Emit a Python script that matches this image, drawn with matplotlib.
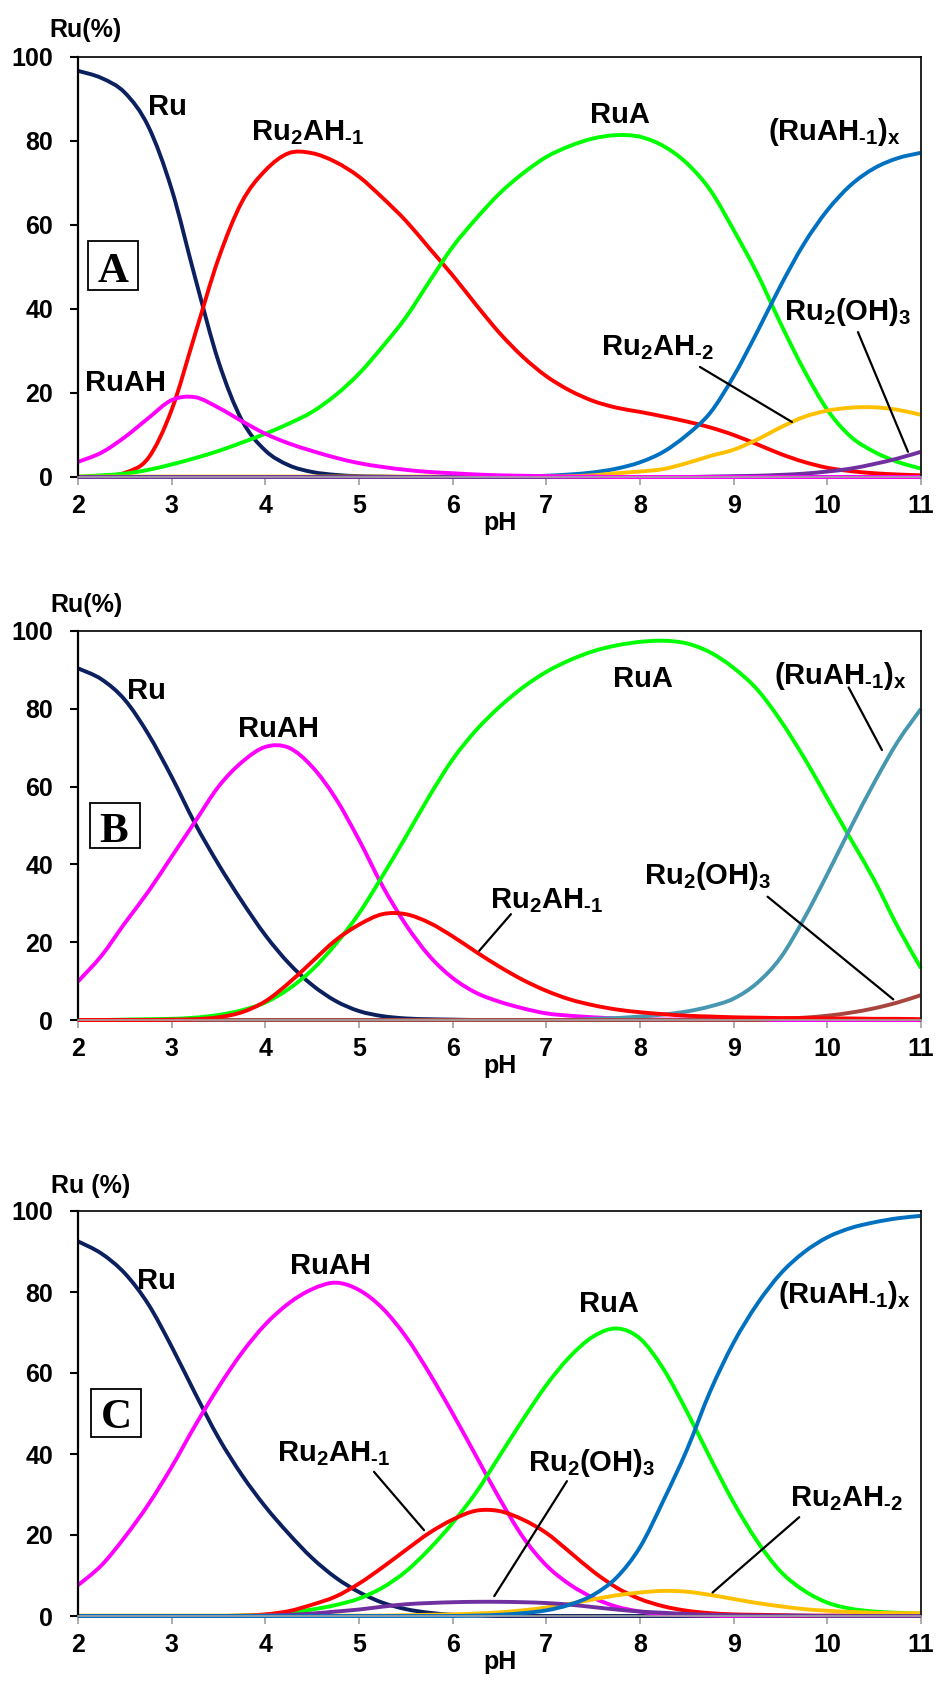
import matplotlib
matplotlib.use('Agg')
import matplotlib.pyplot as plt
from matplotlib.patches import Rectangle, PathPatch
from matplotlib.path import Path

plt.rcParams['font.family'] = ['Liberation Sans', 'DejaVu Sans']
plt.rcParams['font.weight'] = 'bold'
plt.rcParams['mathtext.fontset'] = 'custom'
plt.rcParams['mathtext.rm'] = 'Liberation Sans:bold'
plt.rcParams['mathtext.it'] = 'Liberation Sans:bold'
plt.rcParams['mathtext.bf'] = 'Liberation Sans:bold'
plt.rcParams['mathtext.sf'] = 'Liberation Sans:bold'

# ---------------- data ----------------
ph = [2.0, 2.25, 2.5, 2.75, 3.0, 3.25, 3.5, 3.75, 4.0, 4.25, 4.5, 4.75, 5.0, 5.25,
      5.5, 5.75, 6.0, 6.25, 6.5, 6.75, 7.0, 7.25, 7.5, 7.75, 8.0, 8.25, 8.5, 8.75,
      9.0, 9.25, 9.5, 9.75, 10.0, 10.25, 10.5, 10.75, 11.0]
x_ticks = [2, 3, 4, 5, 6, 7, 8, 9, 10, 11]
y_ticks = [0, 20, 40, 60, 80, 100]

# Panel A
a_ru = [96.7, 95.0, 91.5, 83.5, 68.5, 47.5, 27.5, 13.5, 6.3, 2.8, 1.2, 0.5, 0.2, 0.1,
        0, 0, 0, 0, 0, 0, 0, 0, 0, 0, 0, 0, 0, 0, 0, 0, 0, 0, 0, 0, 0, 0, 0]
a_ruah = [3.6, 5.8, 9.5, 14.0, 18.3, 19.0, 16.5, 13.3, 10.3, 8.0, 6.2, 4.6, 3.3, 2.4,
          1.7, 1.2, 0.9, 0.6, 0.4, 0.3, 0.2, 0.1, 0.1, 0, 0, 0, 0, 0, 0, 0, 0, 0, 0,
          0, 0, 0, 0]
a_ru2ah1 = [0, 0.2, 1.0, 4.5, 16.0, 34.0, 52.0, 65.5, 73.0, 77.1, 77.1, 75.0, 71.5,
            66.5, 61.0, 54.5, 48.0, 41.0, 34.3, 28.6, 24.0, 20.6, 18.1, 16.5, 15.5,
            14.4, 13.2, 11.8, 10.0, 7.8, 5.5, 3.6, 2.2, 1.4, 0.9, 0.6, 0.4]
a_rua = [0.1, 0.4, 0.8, 1.7, 3.0, 4.5, 6.2, 8.2, 10.3, 12.7, 15.5, 19.5, 24.6, 31.0,
         38.0, 46.5, 54.8, 61.5, 67.5, 72.3, 76.2, 78.8, 80.6, 81.4, 81.0, 78.8, 74.7,
         68.3, 58.8, 48.5, 36.6, 25.5, 16.0, 9.6, 6.0, 3.6, 2.0]
a_ruah1x = [0, 0, 0, 0, 0, 0, 0, 0, 0, 0, 0, 0, 0, 0, 0, 0, 0, 0, 0,
            0.1, 0.3, 0.6, 1.1, 2.0, 3.5, 6.0, 10.0, 15.3, 24.0, 34.5, 45.5, 55.5,
            63.5, 69.5, 73.5, 75.9, 77.2]
a_ru2ah2 = [0.1, 0.1, 0.1, 0.1, 0.1, 0.1, 0.1, 0.1, 0.1, 0.1, 0.1, 0.1, 0.1, 0.1,
            0.1, 0.1, 0.1, 0.1, 0.1, 0.1, 0.1, 0.2, 0.4, 0.9, 1.3, 1.9, 3.3, 5.0,
            6.5, 8.9, 11.8, 14.3, 15.8, 16.5, 16.6, 16.0, 14.8]
a_ru2oh3 = [0, 0, 0, 0, 0, 0, 0, 0, 0, 0, 0, 0, 0, 0, 0, 0, 0, 0, 0, 0, 0, 0, 0, 0,
            0, 0, 0, 0.1, 0.2, 0.3, 0.5, 0.8, 1.3, 2.0, 3.1, 4.4, 6.0]

# Panel B
b_ru = [90.4, 87.6, 82.3, 73.5, 62.5, 50.5, 40.0, 30.5, 21.8, 14.6, 9.0, 4.9, 2.3,
        1.0, 0.4, 0.2, 0.1, 0, 0, 0, 0, 0, 0, 0, 0, 0, 0, 0, 0, 0, 0, 0, 0, 0, 0, 0, 0]
b_ruah = [9.9, 16.5, 24.9, 33.0, 42.0, 51.0, 60.0, 66.3, 70.2, 70.0, 65.1, 57.0, 46.3,
          34.5, 24.5, 16.5, 10.8, 7.0, 4.7, 3.0, 1.7, 1.1, 0.7, 0.4, 0.2, 0.1, 0.1,
          0, 0, 0, 0, 0, 0, 0, 0, 0, 0]
b_ru2ah1 = [0, 0, 0, 0, 0.1, 0.2, 0.7, 2.0, 4.8, 9.5, 15.0, 20.5, 24.5, 27.2, 27.2,
            25.0, 21.5, 17.5, 13.7, 10.3, 7.5, 5.3, 3.8, 2.7, 2.0, 1.5, 1.1, 0.9, 0.7,
            0.6, 0.5, 0.5, 0.4, 0.4, 0.3, 0.3, 0.2]
b_rua = [0, 0, 0.1, 0.2, 0.3, 0.6, 1.3, 2.5, 4.5, 8.0, 12.9, 19.5, 27.4, 37.0, 47.1,
         57.5, 67.0, 74.5, 80.5, 85.5, 89.5, 92.5, 94.8, 96.3, 97.2, 97.5, 96.8, 94.5,
         90.5, 85.0, 77.0, 67.5, 57.0, 46.5, 36.0, 24.0, 13.3]
b_ruah1x = [0, 0, 0, 0, 0, 0, 0, 0, 0, 0, 0, 0, 0, 0, 0, 0, 0, 0, 0, 0, 0, 0,
            0.3, 0.5, 0.9, 1.4, 2.2, 3.5, 5.5, 9.5, 16.0, 26.0, 37.5, 49.5, 61.0,
            71.5, 80.0]
b_ru2oh3 = [0, 0, 0, 0, 0, 0, 0, 0, 0, 0, 0, 0, 0, 0, 0, 0, 0, 0, 0, 0, 0, 0, 0, 0,
            0, 0, 0, 0, 0, 0, 0.3, 0.6, 1.1, 1.9, 3.0, 4.5, 6.4]

# Panel C
c_ru = [92.5, 89.5, 84.6, 77.0, 66.5, 55.0, 44.0, 34.8, 27.0, 20.3, 14.3, 9.5, 5.9,
        3.3, 1.7, 0.8, 0.3, 0.1, 0, 0, 0, 0, 0, 0, 0, 0, 0, 0, 0, 0, 0, 0, 0, 0, 0, 0, 0]
c_ruah = [7.6, 12.5, 19.5, 27.5, 36.8, 47.0, 56.5, 65.0, 72.0, 77.2, 80.7, 82.3, 80.5,
          76.0, 69.0, 60.0, 50.0, 39.5, 29.0, 19.5, 12.5, 7.8, 4.5, 2.3, 1.1, 0.4,
          0.2, 0.1, 0, 0, 0, 0, 0, 0, 0, 0, 0]
c_rua = [0, 0, 0, 0, 0, 0, 0, 0.1, 0.3, 0.8, 1.6, 2.7, 4.3, 7.0, 11.0, 16.5, 23.0,
         30.5, 39.5, 48.5, 57.0, 64.0, 69.0, 71.0, 68.5, 61.0, 50.5, 39.0, 28.0, 18.5,
         11.0, 6.3, 3.3, 1.8, 1.1, 0.8, 0.6]
c_ru2ah1 = [0, 0, 0, 0, 0, 0, 0, 0.1, 0.4, 1.2, 2.8, 4.8, 8.0, 12.0, 16.3, 20.5, 23.8,
            26.0, 25.9, 23.8, 20.5, 15.8, 11.0, 7.0, 4.2, 2.4, 1.3, 0.7, 0.4, 0.3,
            0.2, 0.1, 0.1, 0.1, 0, 0, 0]
c_ruah1x = [0, 0, 0, 0, 0, 0, 0, 0, 0, 0, 0, 0, 0, 0, 0, 0, 0,
            0.1, 0.3, 0.7, 1.4, 2.8, 5.2, 9.5, 17.0, 28.5, 41.0, 55.5, 67.5, 77.0,
            84.5, 89.8, 93.5, 95.8, 97.2, 98.2, 98.8]
c_ru2ah2 = [0.1, 0.1, 0.1, 0.1, 0.1, 0.1, 0.1, 0.1, 0.1, 0.1, 0.1, 0.1, 0.1, 0.1,
            0.2, 0.3, 0.4, 0.6, 0.9, 1.4, 2.1, 3.0, 4.1, 5.1, 5.8, 6.2, 6.0, 5.2, 4.2,
            3.2, 2.4, 1.7, 1.3, 1.0, 0.8, 0.7, 0.7]
c_ru2oh3 = [0, 0, 0, 0, 0, 0, 0, 0, 0.1, 0.3, 0.6, 1.1, 1.6, 2.3, 2.9, 3.2, 3.4, 3.5,
            3.5, 3.4, 3.2, 2.8, 2.2, 1.6, 1.1, 0.8, 0.5, 0.3, 0.2, 0.1, 0.1, 0.1, 0,
            0, 0, 0, 0]

# ---------------- styling ----------------
NAVY = '#0c1f5e'
RED = '#ff0000'
GREEN = '#00ff00'
BLUE = '#0070c0'
MAGENTA = '#ff00ff'
ORANGE = '#ffc000'
PURPLE = '#7030a0'
TEAL = '#4797b1'
BROWN = '#a8453f'
LW = 2.8
HY = '\u2010'

L_RU = 'Ru'
L_RUAH = 'RuAH'
L_RUA = 'RuA'
L_RU2AH1 = r'$\mathrm{Ru_2AH_{' + HY + r'1}}$'
L_RU2AH2 = r'$\mathrm{Ru_2AH_{' + HY + r'2}}$'
L_RUAH1X = r'$\mathrm{(RuAH_{' + HY + r'1})_x}$'
L_RU2OH3 = r'$\mathrm{Ru_2(OH)_3}$'

FIG_W, FIG_H = 936, 1687
fig = plt.figure(figsize=(FIG_W / 100, FIG_H / 100), dpi=100)


def make_axes(top_px, bottom_px, left_px=78, right_px=921):
    return fig.add_axes([left_px / FIG_W, 1 - bottom_px / FIG_H,
                         (right_px - left_px) / FIG_W, (bottom_px - top_px) / FIG_H])


def setup(ax, h_px, ylabel, ylab_px):
    ax.set_xlim(2, 11)
    ax.set_ylim(0, 100)
    ax.set_xticks(x_ticks)
    ax.set_yticks(y_ticks)
    ax.tick_params(axis='y', direction='out', length=6, width=1.5, pad=12,
                   labelsize=18, color='black')
    ax.tick_params(axis='x', direction='out', length=5.5, width=1.3, pad=7,
                   labelsize=18, color='#a6a6a6')
    for lab in ax.get_xticklabels() + ax.get_yticklabels():
        lab.set_fontweight('bold')
    ax.spines['left'].set_linewidth(1.6)
    ax.spines['top'].set_linewidth(1.2)
    ax.spines['right'].set_linewidth(1.4)
    ax.spines['right'].set_color('#222222')
    ax.spines['bottom'].set_linewidth(1.2)
    ax.spines['bottom'].set_color('#a6a6a6')
    ax.set_xlabel('pH', fontsize=18, fontweight='bold')
    ax.xaxis.set_label_coords(0.5, -46 / h_px)
    ax.xaxis.label.set_va('center')
    fig.text(ylab_px[0] / FIG_W, 1 - ylab_px[1] / FIG_H, ylabel, fontsize=18,
             fontweight='bold', ha='left', va='baseline')


def box_letter(ax, letter, rect, base):
    x0, x1, y0, y1 = rect
    ax.add_patch(Rectangle((x0, y0), x1 - x0, y1 - y0, fill=True, fc='white',
                           ec='black', lw=1.3, zorder=5, clip_on=False))
    ax.text(base[0], base[1], letter, fontsize=31, fontweight='bold',
            family=['Liberation Serif', 'DejaVu Serif'], ha='center', va='baseline',
            zorder=6)


def label(ax, x, y, s):
    ax.text(x, y, s, fontsize=21, fontweight='bold', ha='left', va='baseline', zorder=7)


def leader(ax, p_from, p_to):
    ax.annotate('', xy=p_to, xytext=p_from,
                arrowprops=dict(arrowstyle='-', color='black', lw=1.6,
                                shrinkA=0, shrinkB=0), zorder=7)


def curve(ax, y, color):
    # smoothed line through the read points (like a spreadsheet "smoothed line")
    n = len(ph)
    verts = [(ph[0], y[0])]
    codes = [Path.MOVETO]
    for i in range(n - 1):
        i0 = max(i - 1, 0)
        i3 = min(i + 2, n - 1)
        c1 = (ph[i] + (ph[i + 1] - ph[i0]) / 6.0, y[i] + (y[i + 1] - y[i0]) / 6.0)
        c2 = (ph[i + 1] - (ph[i3] - ph[i]) / 6.0, y[i + 1] - (y[i3] - y[i]) / 6.0)
        verts += [c1, c2, (ph[i + 1], y[i + 1])]
        codes += [Path.CURVE4] * 3
    patch = PathPatch(Path(verts, codes), fill=False, edgecolor=color, lw=LW,
                      clip_on=False, capstyle='butt', joinstyle='round', zorder=2)
    ax.add_patch(patch)


# ---------------- Panel A ----------------
axA = make_axes(57, 477)
setup(axA, 420, 'Ru(%)', (49, 37))
curve(axA, a_ru, NAVY)
curve(axA, a_ru2ah1, RED)
curve(axA, a_rua, GREEN)
curve(axA, a_ruah1x, BLUE)
curve(axA, a_ru2ah2, ORANGE)
curve(axA, a_ru2oh3, PURPLE)
curve(axA, a_ruah, MAGENTA)
label(axA, 2.747, 86.2, L_RU)
label(axA, 3.847, 80.2, L_RU2AH1)
label(axA, 2.075, 20.5, L_RUAH)
label(axA, 7.466, 84.2, L_RUA)
label(axA, 9.363, 80.2, L_RUAH1X)
label(axA, 9.54, 37.5, L_RU2OH3)
label(axA, 7.583, 29.0, L_RU2AH2)
leader(axA, (8.64, 26.2), (9.622, 13.1))
leader(axA, (10.327, 34.5), (10.861, 6.0))
box_letter(axA, 'A', (2.107, 2.64, 44.5, 56.2), (2.374, 46.5))

# ---------------- Panel B ----------------
axB = make_axes(631, 1020)
setup(axB, 389, 'Ru(%)', (50, 612))
curve(axB, b_ru, NAVY)
curve(axB, b_ruah, MAGENTA)
curve(axB, b_rua, GREEN)
curve(axB, b_ruah1x, TEAL)
curve(axB, b_ru2oh3, BROWN)
curve(axB, b_ru2ah1, RED)
label(axB, 2.52, 82.5, L_RU)
label(axB, 3.711, 72.7, L_RUAH)
label(axB, 7.708, 85.7, L_RUA)
label(axB, 9.434, 86.5, L_RUAH1X)
label(axB, 8.039, 35.0, L_RU2OH3)
label(axB, 6.398, 28.7, L_RU2AH1)
leader(axB, (10.227, 85.5), (10.583, 69.4))
leader(axB, (9.362, 31.7), (10.704, 5.3))
leader(axB, (6.622, 27.2), (6.284, 17.8))
box_letter(axB, 'B', (2.128, 2.662, 44.2, 55.8), (2.384, 45.8))

# ---------------- Panel C ----------------
axC = make_axes(1211, 1616)
setup(axC, 405, 'Ru (%)', (51, 1193))
curve(axC, c_ru, NAVY)
curve(axC, c_ruah, MAGENTA)
curve(axC, c_rua, GREEN)
curve(axC, c_ru2ah1, RED)
curve(axC, c_ru2ah2, ORANGE)
curve(axC, c_ru2oh3, PURPLE)
curve(axC, c_ruah1x, BLUE)
label(axC, 2.627, 80.7, L_RU)
label(axC, 4.263, 84.4, L_RUAH)
label(axC, 4.121, 38.1, L_RU2AH1)
label(axC, 7.345, 75.1, L_RUA)
label(axC, 9.469, 77.2, L_RUAH1X)
label(axC, 6.8, 35.9, L_RU2OH3)
label(axC, 9.601, 27.0, L_RU2AH2)
leader(axC, (5.16, 35.6), (5.694, 21.2))
leader(axC, (7.22, 33.3), (6.444, 4.9))
leader(axC, (9.7, 24.4), (8.775, 5.8))
box_letter(axC, 'C', (2.135, 2.673, 44.2, 56.0), (2.406, 46.4))

fig.savefig('out.png', dpi=100, facecolor='white')
